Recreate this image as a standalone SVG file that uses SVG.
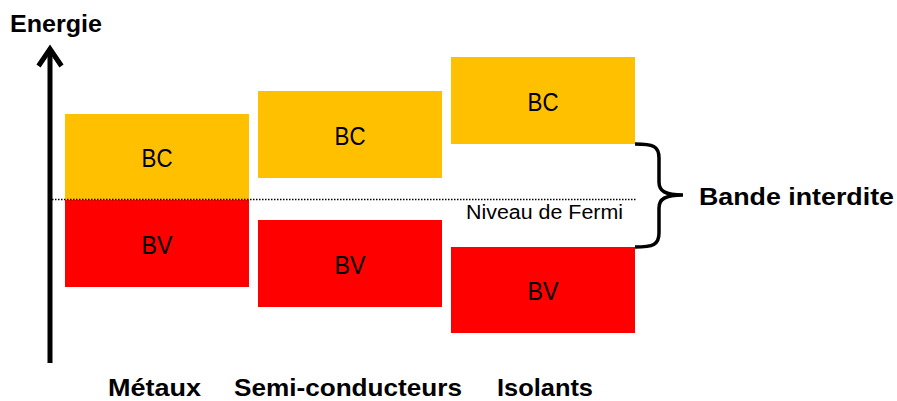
<svg xmlns="http://www.w3.org/2000/svg" width="897" height="401" viewBox="0 0 897 401">
<style>
.bc{fill:#FFC000}
.bv{fill:#FF0000}
.lbl{font-family:"Liberation Sans",Arial,sans-serif;font-size:25px;fill:#000;text-anchor:middle}
.bold{font-family:"Liberation Sans",Arial,sans-serif;font-size:24px;font-weight:bold;fill:#000}
.small{font-family:"Liberation Sans",Arial,sans-serif;font-size:19.5px;fill:#000}
</style>
<rect width="897" height="401" fill="#fff"/>
<g id="metaux">
<rect class="bc" x="65" y="114" width="184" height="86"/>
<rect class="bv" x="65" y="200" width="184" height="87"/>
<text class="lbl" x="157" y="167" textLength="31" lengthAdjust="spacingAndGlyphs">BC</text>
<text class="lbl" x="157" y="254" textLength="31" lengthAdjust="spacingAndGlyphs">BV</text>
</g>
<g id="semi">
<rect class="bc" x="258" y="91" width="184" height="87"/>
<rect class="bv" x="258" y="220" width="184" height="87"/>
<text class="lbl" x="350" y="145" textLength="31" lengthAdjust="spacingAndGlyphs">BC</text>
<text class="lbl" x="350" y="274" textLength="31" lengthAdjust="spacingAndGlyphs">BV</text>
</g>
<g id="isolants">
<rect class="bc" x="451" y="57" width="184" height="87"/>
<rect class="bv" x="451" y="247" width="184" height="86"/>
<text class="lbl" x="543" y="111" textLength="31" lengthAdjust="spacingAndGlyphs">BC</text>
<text class="lbl" x="543" y="300" textLength="31" lengthAdjust="spacingAndGlyphs">BV</text>
</g>
<g id="connectors">
<line x1="52" y1="199.5" x2="637" y2="199.5" stroke="#000" stroke-width="1.5" stroke-dasharray="1.5 1.5"/>
<line x1="50" y1="363" x2="50" y2="49" stroke="#000" stroke-width="5"/>
<polyline points="38.5,66 50,49 61.5,66" fill="none" stroke="#000" stroke-width="5" stroke-linejoin="miter"/>
<path d="M635,144 C653,144 659,146 659,158 L659,182 C659,191 665,195 683,195 C665,195 659,199 659,208 L659,233 C659,245 653,247 635,247" fill="none" stroke="#000" stroke-width="3.5"/>
</g>
<g id="texts">
<text class="bold" x="10" y="32" textLength="92" lengthAdjust="spacingAndGlyphs">Energie</text>
<text class="bold" x="699" y="205" textLength="195" lengthAdjust="spacingAndGlyphs">Bande interdite</text>
<text class="bold" x="108" y="396" textLength="93" lengthAdjust="spacingAndGlyphs">Métaux</text>
<text class="bold" x="234" y="396" textLength="228" lengthAdjust="spacingAndGlyphs">Semi-conducteurs</text>
<text class="bold" x="497" y="396" textLength="96" lengthAdjust="spacingAndGlyphs">Isolants</text>
<text class="small" x="466" y="219" textLength="157" lengthAdjust="spacingAndGlyphs">Niveau de Fermi</text>
</g>
</svg>
